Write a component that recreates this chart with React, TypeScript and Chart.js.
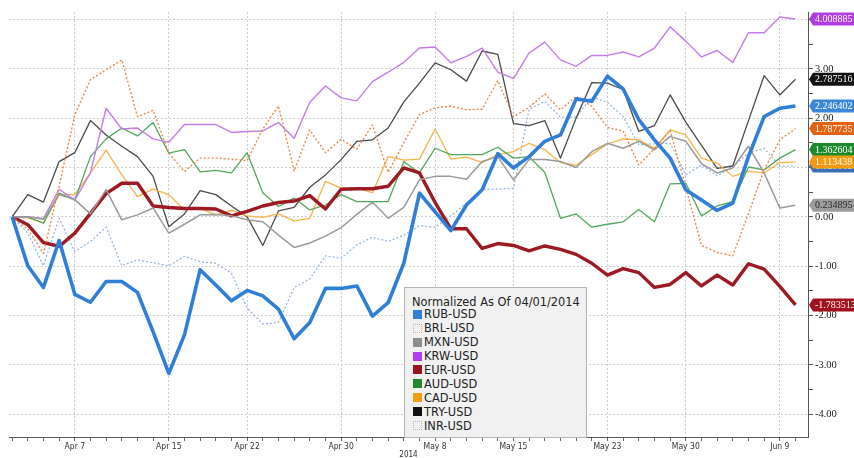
import { useEffect, useRef } from "react";
import { Chart, registerables } from "chart.js";

Chart.register(...registerables);

const dates = [
  "Apr 1", "Apr 2", "Apr 3", "Apr 4", "Apr 7", "Apr 8", "Apr 9", "Apr 10", "Apr 11",
  "Apr 14", "Apr 15", "Apr 16", "Apr 17", "Apr 18", "Apr 21", "Apr 22", "Apr 23", "Apr 24", "Apr 25",
  "Apr 28", "Apr 29", "Apr 30", "May 1", "May 2", "May 5", "May 6", "May 7", "May 8", "May 9",
  "May 12", "May 13", "May 14", "May 15", "May 16", "May 19", "May 20", "May 21", "May 22", "May 23",
  "May 26", "May 27", "May 28", "May 29", "May 30", "Jun 2", "Jun 3", "Jun 4", "Jun 5", "Jun 6",
  "Jun 9", "Jun 10",
];

const tickLabels = ["Apr 7", "Apr 15", "Apr 22", "Apr 30", "May 8", "May 15", "May 23", "May 30", "Jun 9"];

const rub = [0, -0.99, -1.43, -0.48, -1.57, -1.73, -1.31, -1.31, -1.53, -2.33, -3.17, -2.39, -1.07, -1.38, -1.70, -1.49, -1.60, -1.87, -2.47, -2.14, -1.45, -1.45, -1.40, -2.01, -1.74, -0.94, 0.48, 0.10, -0.28, 0.24, 0.55, 1.28, 0.99, 1.22, 1.53, 1.66, 2.39, 2.34, 2.85, 2.59, 1.97, 1.56, 1.19, 0.55, 0.34, 0.13, 0.28, 1.22, 2.03, 2.20, 2.246402];
const brl = [0, -0.25, -0.74, 0.62, 2.07, 2.78, 2.98, 3.18, 2.03, 2.16, 1.29, 0.92, 1.19, 1.19, 1.17, 1.14, 1.78, 2.25, 0.93, 1.76, 1.30, 1.57, 1.37, 1.86, 0.90, 1.5, 2.07, 2.21, 2.24, 2.17, 2.18, 2.76, 2.03, 2.22, 2.49, 2.17, 2.44, 2.24, 1.81, 1.74, 1.05, 1.38, 1.75, 0.6, -0.58, -0.72, -0.79, 0.07, 0.95, 1.56, 1.787735];
const mxn = [0, 0.0, -0.05, 0.45, 0.35, 0.06, 0.55, -0.06, 0.04, 0.18, -0.33, -0.15, 0.04, 0.05, 0.02, -0.06, -0.10, -0.37, -0.62, -0.53, -0.39, -0.22, 0.05, 0.30, -0.03, 0.19, 0.75, 0.82, 0.82, 0.76, 1.12, 1.22, 0.75, 1.16, 1.16, 1.12, 1.00, 1.32, 1.49, 1.39, 1.53, 1.36, 1.63, 1.53, 1.08, 0.89, 0.99, 1.43, 0.89, 0.18, 0.234895];
const krw = [0, 0.0, -0.03, 0.56, 0.34, 0.89, 2.20, 1.78, 1.80, 1.58, 1.51, 1.87, 1.87, 1.87, 1.71, 1.73, 1.74, 1.91, 1.59, 2.32, 2.65, 2.41, 2.35, 2.74, 2.93, 3.13, 3.42, 3.44, 3.12, 3.25, 3.42, 2.93, 2.80, 3.32, 3.54, 3.18, 3.05, 3.27, 3.27, 3.34, 3.24, 3.42, 3.85, 3.56, 3.24, 3.37, 3.13, 3.73, 3.73, 4.05, 4.008885];
const eur = [0, -0.16, -0.52, -0.60, -0.33, 0.07, 0.47, 0.68, 0.68, 0.22, 0.19, 0.17, 0.17, 0.16, 0.02, 0.11, 0.22, 0.29, 0.32, 0.43, 0.16, 0.56, 0.57, 0.57, 0.62, 0.99, 0.89, 0.29, -0.24, -0.24, -0.64, -0.54, -0.58, -0.69, -0.59, -0.66, -0.76, -0.94, -1.18, -1.05, -1.13, -1.43, -1.37, -1.13, -1.40, -1.18, -1.38, -0.95, -1.06, -1.41, -1.783513];
const aud = [0, 0.0, -0.13, 0.48, 0.34, 1.22, 1.58, 1.80, 1.64, 1.91, 1.29, 1.36, 0.91, 0.94, 0.89, 1.30, 0.49, 0.21, 0.38, 0.14, 0.24, 0.45, 0.31, 0.31, 0.31, 1.12, 0.89, 1.39, 1.26, 1.26, 1.26, 1.41, 1.19, 1.22, 0.90, -0.03, 0.06, -0.21, -0.15, -0.10, 0.15, -0.10, 0.67, 0.68, 0.02, 0.22, 0.31, 1.01, 0.95, 1.19, 1.362604];
const cad = [0, -0.02, -0.12, 0.45, 0.45, 0.89, 1.35, 0.85, 0.41, 0.56, 0.45, 0.14, 0.17, 0.04, 0.13, 0.02, -0.01, 0.06, -0.08, -0.03, 0.72, 0.58, 0.58, 0.49, 1.22, 1.15, 1.17, 1.78, 1.17, 1.21, 1.10, 1.26, 1.32, 1.49, 1.36, 1.10, 1.05, 1.26, 1.48, 1.58, 1.56, 1.39, 1.76, 1.66, 1.19, 1.09, 0.82, 0.92, 0.89, 1.10, 1.113438];
const tryUsd = [0, 0.45, 0.30, 1.12, 1.30, 1.95, 1.66, 1.43, 1.22, 0.82, -0.20, 0.06, 0.53, 0.45, 0.22, 0.00, -0.58, 0.12, 0.19, 0.60, 0.85, 1.16, 1.53, 1.56, 1.80, 2.33, 2.71, 3.12, 2.98, 2.75, 3.36, 3.29, 1.89, 1.85, 1.95, 1.19, 2.00, 2.72, 2.71, 2.58, 1.73, 1.85, 2.47, 1.92, 1.45, 0.98, 1.03, 1.95, 2.86, 2.47, 2.787516];
const inr = [0, -0.33, -0.99, -0.03, -0.70, -0.50, -0.21, -0.99, -0.87, -0.93, -0.99, -0.80, -0.91, -0.94, -1.14, -1.85, -2.17, -2.14, -1.43, -1.26, -0.79, -0.84, -0.57, -0.41, -0.50, -0.37, -0.18, -0.21, 0.02, 0.28, 0.56, 0.56, 0.58, 2.18, 2.34, 2.02, 2.02, 2.43, 2.32, 2.03, 1.46, 1.48, 1.49, 0.85, 1.05, 0.83, 1.02, 1.29, 1.39, 1.02, 1.028012];

const seriesNames = ["RUB-USD", "BRL-USD", "MXN-USD", "KRW-USD", "EUR-USD", "AUD-USD", "CAD-USD", "TRY-USD", "INR-USD"];
const seriesValues = [rub, brl, mxn, krw, eur, aud, cad, tryUsd, inr];

// styles (kept separate from the data)
const lineColors = ["#2f7fd8", "#ee8748", "#9a9a9a", "#c27ee8", "#9e1a22", "#52a85a", "#f6b349", "#4a4a4a", "#8fb3dd"];
const lineWidths = [3.6, 1.4, 1.5, 1.4, 3.4, 1.3, 1.3, 1.3, 1.2];
const lineDashes: number[][] = [[], [2, 2], [], [], [], [], [], [], [2, 2]];
const swatchColors = ["#2f7fd8", "", "#8e8e8e", "#b23df0", "#a1101e", "#1f8b2c", "#f59c12", "#111111", ""];
const swatchBorders = ["", "#d9a98a", "", "", "", "", "", "", "#9fb6d3"];
const tagColors = ["#3a86d8", "#e2620f", "#9c9c9c", "#b13ce0", "#a3101d", "#1a8a2a", "#f29a10", "#111111", "#3a6fb8"];
const tagText = ["#ffffff", "#ffffff", "#2b2b2b", "#ffffff", "#ffffff", "#ffffff", "#ffffff", "#ffffff", "#ffffff"];
const tagOrder = [8, 5, 6, 2, 1, 0, 7, 3, 4];

const tagPlugin = {
  id: "valueTags",
  afterDraw(chart: any) {
    const ctx = chart.ctx as CanvasRenderingContext2D;
    const yScale = chart.scales.y;
    const x0 = chart.chartArea.right;
    const w = chart.width;
    tagOrder.forEach((idx) => {
      const vals = seriesValues[idx];
      const last = vals[vals.length - 1];
      const py = yScale.getPixelForValue(last);
      const h = 6.5;
      ctx.save();
      ctx.fillStyle = tagColors[idx];
      ctx.beginPath();
      ctx.moveTo(x0 + 1, py);
      ctx.lineTo(x0 + 5, py - h);
      ctx.lineTo(w + 2, py - h);
      ctx.lineTo(w + 2, py + h);
      ctx.lineTo(x0 + 5, py + h);
      ctx.closePath();
      ctx.fill();
      ctx.fillStyle = tagText[idx];
      ctx.font = '10px "Liberation Serif", "DejaVu Serif", serif';
      ctx.textBaseline = "middle";
      ctx.textAlign = "left";
      ctx.fillText(last.toFixed(6), x0 + 7, py + 0.5);
      ctx.restore();
    });
  },
};

function Legend() {
  return (
    <div
      style={{
        position: "absolute",
        left: 404,
        top: 287,
        width: 181,
        height: 149,
        background: "#f1f1f1",
        border: "1px solid #b4b4b4",
        fontFamily: '"DejaVu Sans", sans-serif',
        fontSize: 11.4,
        color: "#222",
        boxSizing: "content-box",
      }}
    >
      <div style={{ position: "absolute", left: 7, top: 7, height: 14, lineHeight: "14px", whiteSpace: "nowrap" }}>
        Normalized As Of 04/01/2014
      </div>
      {seriesNames.map((name, i) => (
        <div
          key={name}
          style={{
            position: "absolute",
            left: 7,
            top: 19.3 + 13.9 * i,
            height: 14,
            lineHeight: "14px",
            whiteSpace: "nowrap",
            display: "flex",
            alignItems: "center",
          }}
        >
          <span
            style={{
              display: "inline-block",
              width: swatchColors[i] ? 9 : 7,
              height: swatchColors[i] ? 9 : 7,
              background: swatchColors[i] || "transparent",
              border: swatchColors[i] ? "none" : `1px dotted ${swatchBorders[i]}`,
              marginRight: 2,
              marginLeft: 1,
            }}
          />
          <span>{name}</span>
        </div>
      ))}
    </div>
  );
}

export default function App() {
  const ref = useRef<HTMLCanvasElement>(null);
  useEffect(() => {
    if (!ref.current) return;
    const datasets = seriesNames.map((name, i) => ({
      label: name,
      data: seriesValues[i].map((v, j) => ({ x: j, y: v })),
      borderColor: lineColors[i],
      backgroundColor: lineColors[i],
      borderWidth: lineWidths[i],
      borderDash: lineDashes[i],
      pointRadius: 0,
      tension: 0,
      fill: false,
      borderJoinStyle: "round" as const,
    }));
    const chart = new Chart(ref.current, {
      type: "line",
      data: { datasets },
      options: {
        animation: false,
        responsive: false,
        layout: { padding: { top: 12, left: 9, right: 0, bottom: 0 } },
        plugins: { legend: { display: false }, tooltip: { enabled: false } },
        scales: {
          x: {
            type: "linear",
            min: -0.2,
            max: 50.8,
            afterBuildTicks: (s: any) => {
              s.ticks = dates.map((_, i) => ({ value: i }));
            },
            afterFit: (s: any) => {
              s.height = 21;
            },
            ticks: {
              autoSkip: false,
              maxRotation: 0,
              minRotation: 0,
              padding: 1,
              color: "#333",
              font: { family: '"DejaVu Sans Condensed", "DejaVu Sans", sans-serif', size: 8.5 },
              callback: (v: any) => {
                const d = dates[Number(v)];
                return tickLabels.includes(d) ? d : "";
              },
            },
            grid: {
              color: (c: any) =>
                c.tick && tickLabels.includes(dates[c.tick.value]) ? "#cdcdcd" : "rgba(0,0,0,0)",
              tickColor: "#666",
              tickLength: 4,
              lineWidth: 1,
            },
            border: { display: true, color: "#555", width: 1, dash: [2, 2] },
            title: {
              display: true,
              text: "2014",
              color: "#333",
              font: { family: '"DejaVu Sans Condensed", "DejaVu Sans", sans-serif', size: 8 },
              padding: { top: 0, bottom: -2 },
            },
          },
          y: {
            type: "linear",
            position: "right",
            min: -4.46,
            max: 4.15,
            afterBuildTicks: (s: any) => {
              const t = [];
              for (let k = -8; k <= 8; k++) t.push({ value: k / 2 });
              s.ticks = t;
            },
            afterFit: (s: any) => {
              s.width = 46;
            },
            ticks: {
              padding: 2,
              color: "#222",
              font: { family: '"Liberation Serif", "DejaVu Serif", serif', size: 10.5 },
              callback: (v: any) => (Number.isInteger(Number(v)) ? Number(v).toFixed(2) : ""),
            },
            grid: {
              color: (c: any) =>
                c.tick && Number.isInteger(c.tick.value) ? "#cfcfcf" : "rgba(0,0,0,0)",
              tickColor: "#555",
              tickLength: 5,
              lineWidth: 1,
            },
            border: { display: true, color: "#555", width: 1, dash: [2, 2] },
          },
        },
      },
      plugins: [tagPlugin],
    });
    return () => chart.destroy();
  }, []);

  return (
    <div style={{ position: "fixed", left: 0, top: 0, width: 854, height: 458, background: "#fff", overflow: "hidden" }}>
      <canvas ref={ref} width={854} height={458} style={{ display: "block" }} />
      <Legend />
    </div>
  );
}
